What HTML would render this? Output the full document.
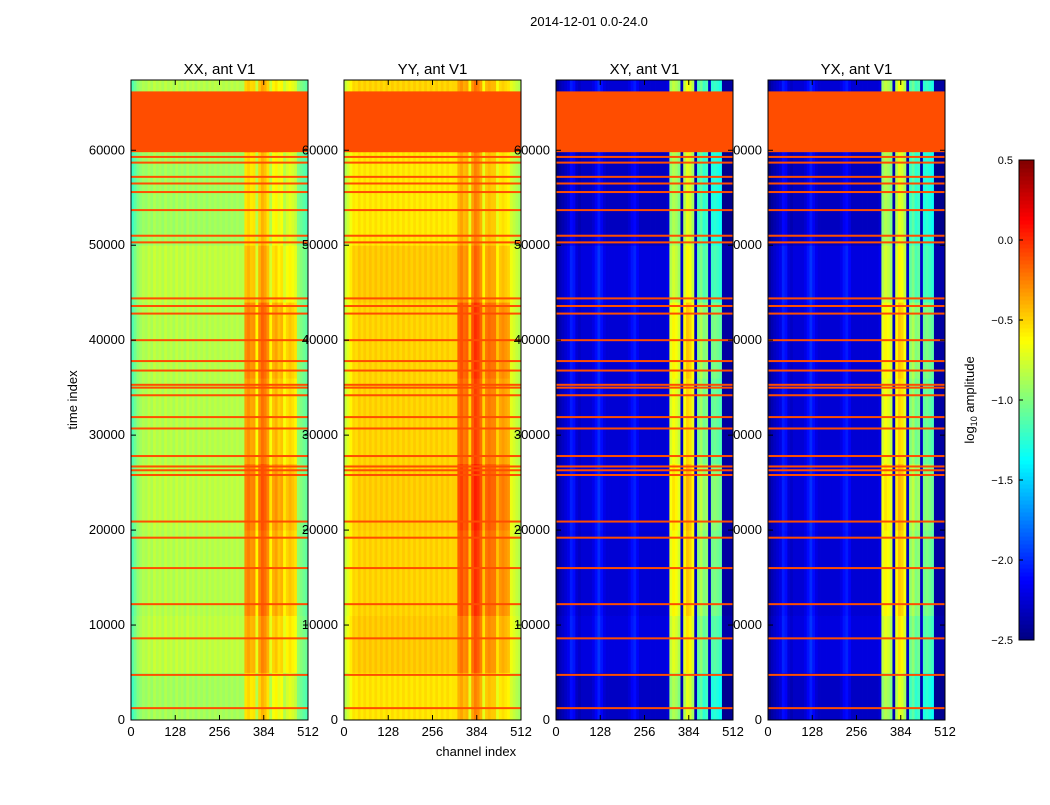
<!DOCTYPE html>
<html><head><meta charset="utf-8"><style>
body{margin:0;background:#fff;}
svg text{font-family:"Liberation Sans",sans-serif;fill:#000;}
</style></head><body>
<svg id="fig" width="1050" height="800" xmlns="http://www.w3.org/2000/svg">
<rect width="1050" height="800" fill="#fff"/>
<text x="589" y="26" font-size="13" text-anchor="middle">2014-12-01 0.0-24.0</text>
<text x="0" y="0" font-size="13" text-anchor="middle" transform="translate(77,400) rotate(-90)">time index</text>
<text x="476" y="756" font-size="13" text-anchor="middle">channel index</text>
<text x="0" y="0" font-size="13" text-anchor="middle" transform="translate(974,400) rotate(-90)">log<tspan font-size="9" dy="3">10</tspan><tspan dy="-3"> amplitude</tspan></text>
<g id="labelsUnder"></g>
<g id="panels"></g>
<g id="labels"></g>
<g id="cbar"></g>
</svg>
<script>
// ---- data ----
const panelTitles = ["XX, ant V1","YY, ant V1","XY, ant V1","YX, ant V1"];
const xTicks = [0,128,256,384,512];
const yTicks = [0,10000,20000,30000,40000,50000,60000];
const cbTicks = [0.5,0.0,-0.5,-1.0,-1.5,-2.0,-2.5];
const cbLabels = ["0.5","0.0","\u22120.5","\u22121.0","\u22121.5","\u22122.0","\u22122.5"];
const vmin = -2.5, vmax = 0.5;
const tMax = 67400;
// channel bins: 8 channels each (64 bins)
const xxCols = [-1.15,-1.05,-0.95,-0.9,-0.85,-0.88,-0.82,-0.88,-0.8,-0.86,-0.82,-0.88,-0.8,-0.86,-0.82,-0.88,-0.8,-0.86,-0.82,-0.88,-0.8,-0.86,-0.82,-0.88,-0.82,-0.86,-0.82,-0.88,-0.82,-0.86,-0.82,-0.86,-0.82,-0.86,-0.82,-0.86,-0.82,-0.86,-0.82,-0.86,-0.85,-0.4,-0.35,-0.42,-0.4,-0.7,-0.35,-0.25,-0.3,-0.4,-0.7,-0.5,-0.45,-0.55,-0.5,-0.7,-0.6,-0.55,-0.6,-0.65,-0.95,-1.0,-1.05,-1.1];
const yyCols = [-0.8,-0.7,-0.6,-0.5,-0.53,-0.47,-0.52,-0.47,-0.52,-0.47,-0.52,-0.47,-0.52,-0.47,-0.52,-0.47,-0.52,-0.47,-0.52,-0.47,-0.52,-0.47,-0.52,-0.47,-0.52,-0.47,-0.52,-0.47,-0.52,-0.47,-0.52,-0.47,-0.52,-0.47,-0.52,-0.47,-0.52,-0.47,-0.52,-0.5,-0.5,-0.25,-0.2,-0.28,-0.25,-0.55,-0.2,-0.1,-0.15,-0.25,-0.55,-0.32,-0.28,-0.32,-0.32,-0.55,-0.42,-0.38,-0.42,-0.45,-0.7,-0.75,-0.8,-0.85];
const xyCols = [-2.45,-2.35,-2.3,-2.25,-2.2,-2.05,-2.1,-2.25,-2.3,-2.25,-2.25,-2.25,-2.25,-2.2,-2.1,-2.0,-2.1,-2.2,-2.25,-2.25,-2.25,-2.25,-2.25,-2.25,-2.25,-2.25,-2.2,-2.1,-2.05,-2.15,-2.25,-2.25,-2.25,-2.25,-2.25,-2.25,-2.25,-2.25,-2.25,-2.25,-2.2,-0.8,-0.7,-0.75,-0.85,-2.3,-0.7,-0.55,-0.6,-0.75,-2.3,-1.05,-0.95,-1.1,-1.05,-2.3,-1.15,-1.1,-1.15,-1.2,-2.4,-2.4,-2.4,-2.4];
const yxCols = xyCols.slice();
// time segments and additive modifiers
const segEdges = [0,5000,11000,20000,27000,36000,44000,50000,59800,66200,67400];
const segModHot = [-0.15,0.0,0.1,0.15,0.05,0.1,-0.05,-0.15,0,-0.1];
const segModBase = [-0.05,0.03,0.0,0.02,0.0,0.0,0.03,-0.06,0,0.0];
const flagBlock = [59800,66200];
const flagValue = -0.1;
const flaggedRows = [1250,4750,8600,12200,16000,19200,20900,25800,26300,26700,27800,30700,31900,34200,35000,35300,36800,37800,40000,42800,43600,44400,50300,51000,53700,55600,56500,57200,58700,59300];
const panelCols = [xxCols,yyCols,xyCols,yxCols];
const panelX = [131,344,556,768];
// ---- drawing ----
const NS="http://www.w3.org/2000/svg";
const PW=177, Y0=720, Y1=80;
function jet(v){let t=(v-vmin)/(vmax-vmin);t=Math.max(0,Math.min(1,t));
 const c=x=>Math.round(255*Math.max(0,Math.min(1,x)));
 return `rgb(${c(1.5-Math.abs(4*t-3))},${c(1.5-Math.abs(4*t-2))},${c(1.5-Math.abs(4*t-1))})`;}
function yScale(t){return Y0-(t/tMax)*(Y0-Y1);}
function mk(tag,attrs,parent){const e=document.createElementNS(NS,tag);for(const k in attrs)e.setAttribute(k,attrs[k]);parent.appendChild(e);return e;}
const panelsG=document.getElementById('panels');
const labelsG=document.getElementById('labels');
const labelsU=document.getElementById('labelsUnder');
panelCols.forEach((cols,p)=>{
 const x0=panelX[p];
 const xScale=ch=>x0+ch/512*PW;
 const g=mk('g',{},panelsG);
 
 
 for(let s=0;s<segEdges.length-1;s++){
  const ya=yScale(segEdges[s+1]), yb=yScale(segEdges[s]);
  cols.forEach((v,i)=>{
   const hot=(i>=41&&i<60&&v>-1.5);
   const val=v+(hot?segModHot[s]:segModBase[s]);
   const r=mk('rect',{x:xScale(i*8),y:ya,width:xScale(i*8+8)-xScale(i*8)+0.4,height:yb-ya+0.4,fill:jet(val)},g);
   
   
  });
 }
 const fb=mk('rect',{x:x0,y:yScale(flagBlock[1]),width:PW,height:yScale(flagBlock[0])-yScale(flagBlock[1]),fill:jet(flagValue)},g);
 
 
 flaggedRows.forEach(t=>{
  const r=mk('rect',{x:x0,y:yScale(t)-1,width:PW,height:2,fill:jet(flagValue)},g);
  
  
 });
 const fr=mk('rect',{x:x0,y:Y1,width:PW,height:Y0-Y1,fill:'none',stroke:'#000','stroke-width':1},g);
 
 
 const tt=mk('text',{x:x0+PW/2,y:74,'font-size':15,'text-anchor':'middle'},g);
 tt.textContent=panelTitles[p];
 
 
 xTicks.forEach(c=>{
  const x=xScale(c);
  mk('line',{x1:x,x2:x,y1:Y0,y2:Y0-5,stroke:'#000'},g);
  mk('line',{x1:x,x2:x,y1:Y1,y2:Y1+5,stroke:'#000'},g);
  const l=mk('text',{x:x,y:Y0+16,'font-size':13,'text-anchor':'middle'},g);
  l.textContent=c;
  
  
 });
 yTicks.forEach(t=>{
  const y=yScale(t);
  mk('line',{x1:x0,x2:x0+5,y1:y,y2:y,stroke:'#000'},g);
  mk('line',{x1:x0+PW,x2:x0+PW-5,y1:y,y2:y,stroke:'#000'},g);
  const l=mk('text',{x:x0-6,y:y+4,'font-size':13,'text-anchor':'end'},p===3?labelsU:labelsG);
  l.textContent=t;
  
  
 });
});
// colorbar
const cb=document.getElementById('cbar');


const CX=1019,CW=15,CT=160,CB=640;
const cy=v=>CB-(v-vmin)/(vmax-vmin)*(CB-CT);
for(let i=0;i<120;i++){
 const v=vmin+(i+0.5)*(vmax-vmin)/120;
 const y=cy(vmin+(i+1)*(vmax-vmin)/120);
 mk('rect',{x:CX,y:y,width:CW,height:(CB-CT)/120+0.5,fill:jet(v)},cb);
}
mk('rect',{x:CX,y:CT,width:CW,height:CB-CT,fill:'none',stroke:'#000'},cb);
cbTicks.forEach((v,i)=>{
 const y=cy(v);
 mk('line',{x1:CX,x2:CX+4,y1:y,y2:y,stroke:'#000'},cb);
 const l=mk('text',{x:CX-6,y:y+4,'font-size':11,'text-anchor':'end'},cb);
 l.textContent=cbLabels[i];
 
 
});
</script>
</body></html>
